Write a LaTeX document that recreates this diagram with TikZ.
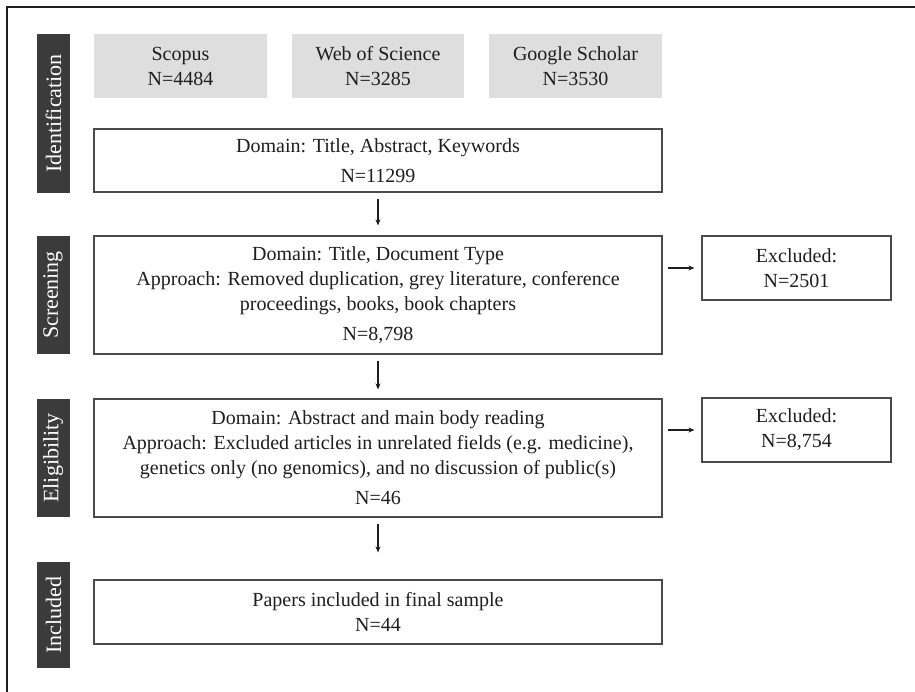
\documentclass[tikz,border=0pt]{standalone}
\usepackage{fontspec}
\setmainfont{Liberation Serif}
\usetikzlibrary{arrows.meta}
\definecolor{boxgray}{HTML}{DEDEDE}
\definecolor{labgray}{HTML}{3B3B3B}
\definecolor{ink}{HTML}{1E1E1E}
\definecolor{edge}{HTML}{4A4A4A}
\begin{document}
\begin{tikzpicture}[x=1pt,y=-1pt,
  txt/.style={font=\fontsize{20}{25}\selectfont, text=ink, align=center, inner sep=0pt},
  srcbox/.style={txt, fill=boxgray, draw=none},
  flowbox/.style={txt, draw=edge, line width=1.1pt, fill=white},
  stagelab/.style={fill=labgray, text=white, font=\fontsize{22}{24}\selectfont, rotate=90, inner sep=0pt, minimum height=33pt},
  flowarrow/.style={-{Stealth[length=6pt,width=5pt]}, line width=1.2pt, draw=ink}]
\useasboundingbox (0,0) rectangle (915,691);
\draw[line width=1.1pt, draw=ink] (7,730) -- (7,7) -- (940,7);
% stage labels
\node[stagelab, minimum width=159pt] (lid) at (53.5,113.5) {Identification};
\node[stagelab, minimum width=118pt] (lsc) at (53,295) {Screening};
\node[stagelab, minimum width=118pt] (lel) at (53,458) {Eligibility};
\node[stagelab, minimum width=106pt] (lin) at (53.5,615) {Included};
% sources
\node[srcbox, minimum width=173pt, minimum height=64pt] (sco) at (180.5,66) {Scopus\\N=4484};
\node[srcbox, minimum width=172pt, minimum height=64pt] (wos) at (378,66) {Web of Science\\N=3285};
\node[srcbox, minimum width=173pt, minimum height=64pt] (gs) at (575.5,66) {Google Scholar\\N=3530};
% flow boxes
\node[flowbox, minimum width=568pt, minimum height=63pt] (dom) at (378,160.5) {Domain: Title, Abstract, Keywords\\[5pt]N=11299};
\node[flowbox, minimum width=568pt, minimum height=118pt] (scr) at (378,295) {Domain: Title, Document Type\\Approach: Removed duplication, grey literature, conference\\proceedings, books, book chapters\\[5pt]N=8,798};
\node[flowbox, minimum width=189pt, minimum height=64pt] (ex1) at (796.5,268) {Excluded:\\N=2501};
\node[flowbox, minimum width=568pt, minimum height=118pt] (eli) at (378,458) {Domain: Abstract and main body reading\\Approach: Excluded articles in unrelated fields (e.g. medicine),\\genetics only (no genomics), and no discussion of public(s)\\[5pt]N=46};
\node[flowbox, minimum width=189pt, minimum height=64pt] (ex2) at (796.5,430) {Excluded:\\N=8,754};
\node[flowbox, minimum width=568pt, minimum height=64pt] (inc) at (378,612) {Papers included in final sample\\N=44};
% arrows
\draw[flowarrow, shorten <=6pt, shorten >=10pt] (dom.south) -- (scr.north);
\draw[flowarrow, shorten <=6pt, shorten >=9pt] (scr.south) -- (eli.north);
\draw[flowarrow, shorten <=6pt, shorten >=27pt] (eli.south) -- (inc.north);
\draw[flowarrow, shorten <=5pt, shorten >=7pt] (scr.east |- ex1.west) -- (ex1.west);
\draw[flowarrow, shorten <=5pt, shorten >=7pt] (eli.east |- ex2.west) -- (ex2.west);
\end{tikzpicture}
\end{document}
